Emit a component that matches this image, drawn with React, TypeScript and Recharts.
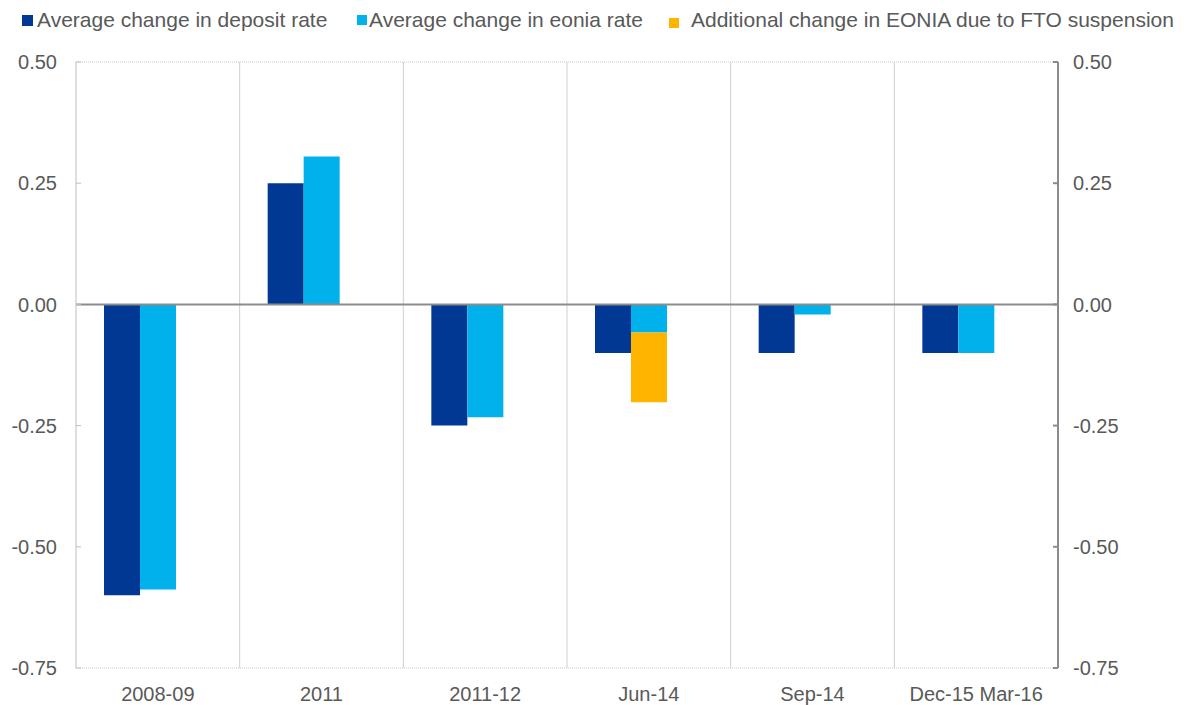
import { Bar, BarChart, CartesianGrid, ReferenceLine, XAxis, YAxis } from "recharts";

const categories = ["2008-09", "2011", "2011-12", "Jun-14", "Sep-14", "Dec-15 Mar-16"];
const depositChange = [-0.6, 0.25, -0.25, -0.1, -0.1, -0.1];
const eoniaChange = [-0.588, 0.305, -0.233, -0.058, -0.021, -0.1];
const ftoExtra = [null, null, null, -0.144, null, null];
const yTicks = [-0.75, -0.5, -0.25, 0, 0.25, 0.5];

const legendItems = [
  { label: "Average change in deposit rate", color: "#003893", left: 22, size: 11, gap: 4, drop: 0 },
  { label: "Average change in eonia rate", color: "#00b1eb", left: 357, size: 10, gap: 2, drop: 0 },
  { label: "Additional change in EONIA due to FTO suspension", color: "#ffb400", left: 669, size: 10, gap: 12, drop: 6 },
];

const TEXT = "#595959";
const FONT = "'Liberation Sans', Arial, sans-serif";

const data = categories.map((c, i) => ({
  cat: c,
  deposit: depositChange[i],
  eonia: eoniaChange[i],
  fto: ftoExtra[i],
  spacer: null,
}));

export default function App() {
  const tick = { fontSize: 20, fill: TEXT, fontFamily: FONT };
  return (
    <div style={{ position: "absolute", left: 0, top: 0, width: 1189, height: 705, background: "#fff" }}>
      {legendItems.map((l) => (
        <div
          key={l.label}
          style={{
            position: "absolute",
            left: l.left,
            top: 2,
            height: 36,
            display: "flex",
            alignItems: "center",
            fontFamily: FONT,
            fontSize: 21,
            color: TEXT,
            whiteSpace: "nowrap",
          }}
        >
          <span
            style={{
              display: "inline-block",
              width: l.size,
              height: l.size,
              background: l.color,
              marginRight: l.gap,
              marginTop: l.drop,
            }}
          />
          {l.label}
        </div>
      ))}
      <BarChart
        width={1189}
        height={705}
        data={data}
        margin={{ top: 62, right: 0, bottom: 0, left: 0 }}
        barSize={36}
        barGap={0}
      >
        <CartesianGrid
          horizontal
          vertical={false}
          stroke="#c8c8c8"
          strokeDasharray="1 1"
        />
        <CartesianGrid
          horizontal={false}
          vertical
          stroke="#cfcfcf"
          verticalCoordinatesGenerator={({ offset }: any) =>
            categories.slice(1).map((_, i) => offset.left + ((i + 1) * offset.width) / categories.length)
          }
        />
        <XAxis
          dataKey="cat"
          axisLine={false}
          tickLine={false}
          tickSize={0}
          tickMargin={19}
          height={37}
          tick={tick}
          interval={0}
        />
        <YAxis
          yAxisId="left"
          orientation="left"
          domain={[-0.75, 0.5]}
          ticks={yTicks}
          width={76}
          tickFormatter={(v: number) => v.toFixed(2)}
          axisLine={{ stroke: "#bdbdbd", strokeWidth: 1 }}
          tickLine={{ stroke: "#bdbdbd" }}
          tickSize={-5}
          tickMargin={24}
          tick={tick}
          allowDataOverflow
        />
        <YAxis
          yAxisId="right"
          orientation="right"
          domain={[-0.75, 0.5]}
          ticks={yTicks}
          width={131}
          tickFormatter={(v: number) => v.toFixed(2)}
          axisLine={{ stroke: "#8c8c8c", strokeWidth: 2 }}
          tickLine={{ stroke: "#8c8c8c", strokeWidth: 2 }}
          tickSize={-5}
          tickMargin={20}
          tick={{ ...tick, textAnchor: "start" }}
          allowDataOverflow
        />
        <Bar yAxisId="left" dataKey="deposit" stackId="a" fill="#003893" isAnimationActive={false} />
        <Bar yAxisId="left" dataKey="eonia" stackId="b" fill="#00b1eb" isAnimationActive={false} />
        <Bar yAxisId="left" dataKey="fto" stackId="b" fill="#ffb400" isAnimationActive={false} />
        <Bar yAxisId="left" dataKey="spacer" stackId="c" fill="transparent" isAnimationActive={false} />
        <ReferenceLine yAxisId="left" y={0} stroke="#8c8c8c" strokeWidth={2} />
      </BarChart>
    </div>
  );
}
